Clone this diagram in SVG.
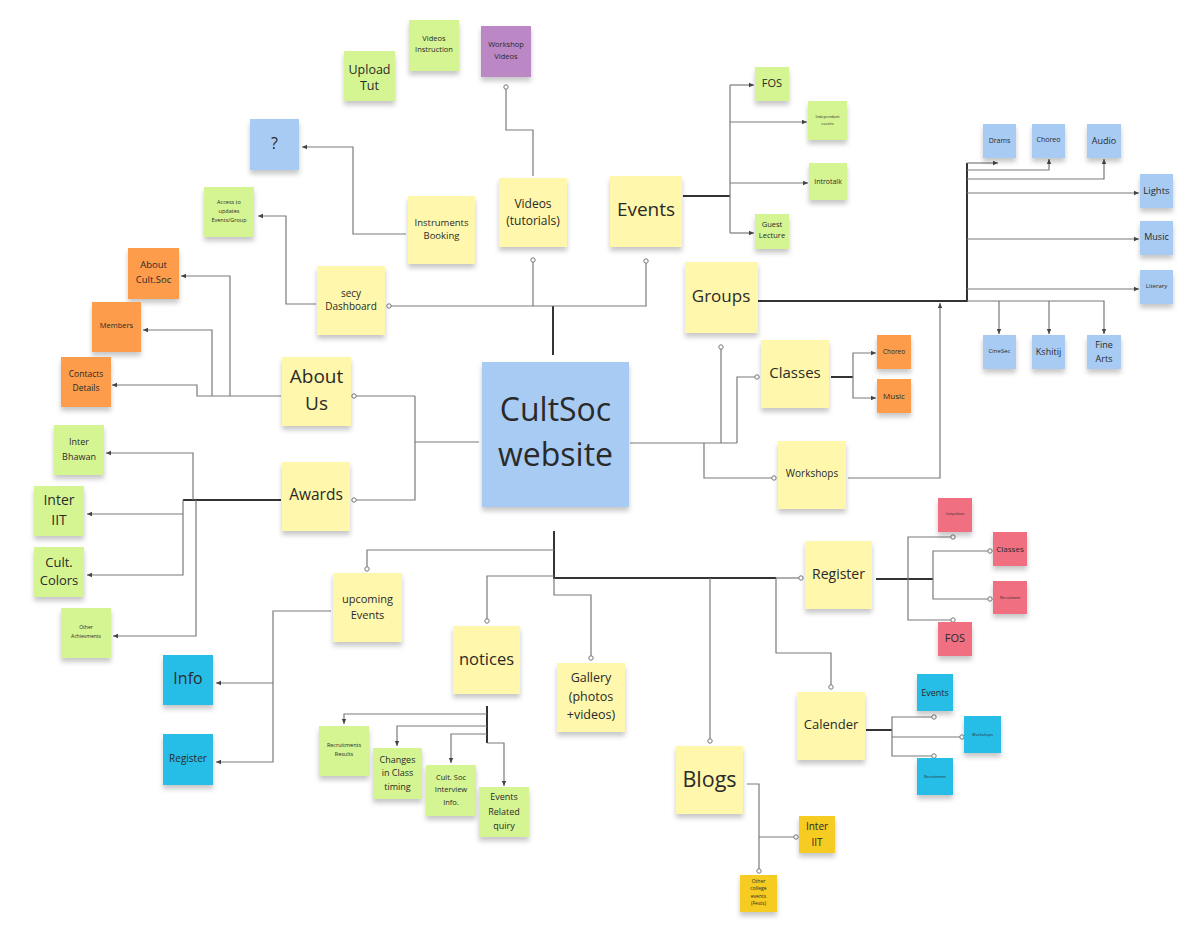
<svg xmlns="http://www.w3.org/2000/svg" width="1204" height="933" viewBox="0 0 1204 933">
<style>
.note{filter:url(#sh)}
.y{fill:#fff7ab}.g{fill:#d5f593}.o{fill:#fd9c4b}.b{fill:#a8cbf4}.p{fill:#bb87c4}.r{fill:#f06f82}.c{fill:#27bee6}.gd{fill:#f6cb24}
text{font-family:"Open Sans","Liberation Sans",sans-serif;fill:#2a2a2a;text-anchor:middle;dominant-baseline:central}
.ln{fill:none;stroke:#7a7a7a;stroke-width:1.2}
.tk{fill:none;stroke:#333;stroke-width:2}
.ar{marker-end:url(#arrow)}
.dt{marker-end:url(#dot)}
</style>
<defs>
<filter id="sh" x="-20%" y="-20%" width="140%" height="150%">
<feDropShadow dx="0" dy="4" stdDeviation="2.5" flood-color="#000" flood-opacity="0.22"/>
</filter>
<marker id="arrow" markerUnits="userSpaceOnUse" markerWidth="6" markerHeight="6" refX="5" refY="3" orient="auto">
<path d="M0,0.8 L5,3 L0,5.2 z" fill="#444"/>
</marker>
<marker id="dot" markerUnits="userSpaceOnUse" markerWidth="8" markerHeight="8" refX="4" refY="4" orient="auto">
<circle cx="4" cy="4" r="2.2" fill="#fff" stroke="#777" stroke-width="1"/>
</marker>
</defs>
<rect width="1204" height="933" fill="#ffffff"/>

<g id="connectors">
<!-- top -->
<path class="tk" d="M553,355 V306"/>
<path class="ln dt" d="M553,306 H389"/>
<path class="ln dt" d="M553,306 H646 V261"/>
<path class="ln dt" d="M533,306 V260"/>
<path class="ln dt" d="M533,176 V130 H506 V87"/>
<path class="ln ar" d="M406,234 H353 V147 H302"/>
<path class="ln ar" d="M316,304 H286 V216 H258"/>
<!-- events -->
<path class="tk" d="M683,196 H730"/>
<path class="ln" d="M730,85 V233"/>
<path class="ln ar" d="M730,85 H754"/>
<path class="ln ar" d="M730,122 H807"/>
<path class="ln ar" d="M730,183 H808"/>
<path class="ln ar" d="M730,233 H754"/>
<!-- groups -->
<path class="tk" d="M758,301 H967 V163"/>
<path class="ln ar" d="M967,163 H998"/>
<path class="ln ar" d="M967,170 H1049 V159"/>
<path class="ln ar" d="M967,179 H1104 V159"/>
<path class="ln ar" d="M967,193 H1139"/>
<path class="ln ar" d="M967,239 H1139"/>
<path class="ln ar" d="M967,289 H1139"/>
<path class="ln ar" d="M967,301 H1104 V334"/>
<path class="ln ar" d="M999,301 V334"/>
<path class="ln ar" d="M1049,301 V334"/>
<!-- hub right -->
<path class="ln" d="M630,443 H737"/>
<path class="ln dt" d="M737,443 V377 H757"/>
<path class="ln dt" d="M721,443 V347"/>
<path class="ln dt" d="M704,443 V478 H774"/>
<path class="ln ar" d="M848,478 H940 V303"/>
<!-- classes -->
<path class="tk" d="M831,377 H853"/>
<path class="ln ar" d="M853,377 V353 H876"/>
<path class="ln ar" d="M853,377 V398 H876"/>
<!-- hub left -->
<path class="ln" d="M479,442 H415"/>
<path class="ln dt" d="M415,396 H354"/>
<path class="ln dt" d="M415,396 V500 H354"/>
<!-- about us -->
<path class="ln ar" d="M281,396 H197 V385 H112"/>
<path class="ln ar" d="M230,396 V276 H181"/>
<path class="ln ar" d="M212,396 V330 H143"/>
<!-- awards -->
<path class="tk" d="M281,500 H183"/>
<path class="ln ar" d="M183,500 V575 H87"/>
<path class="ln ar" d="M183,514 H87"/>
<path class="ln ar" d="M193,500 V453 H106"/>
<path class="ln ar" d="M196,500 V636 H113"/>
<!-- bottom hub -->
<path class="tk" d="M554,531 V578 H776"/>
<path class="ln dt" d="M776,578 H801"/>
<path class="ln dt" d="M554,550 H367 V569"/>
<path class="ln dt" d="M554,576 H487 V621"/>
<path class="ln dt" d="M554,578 V595 H591 V658"/>
<path class="ln dt" d="M710,578 V741"/>
<path class="ln dt" d="M776,578 V653 H831 V687"/>
<!-- upcoming -->
<path class="ln ar" d="M331,611 H273 V762 H216"/>
<path class="ln ar" d="M273,683 H216"/>
<!-- notices -->
<path class="tk" d="M487,706 V743"/>
<path class="ln ar" d="M487,743 H504 V786"/>
<path class="ln ar" d="M487,714 H344 V724"/>
<path class="ln ar" d="M487,726 H397 V746"/>
<path class="ln ar" d="M487,734 H451 V763"/>
<!-- register -->
<path class="tk" d="M876,579 H933"/>
<path class="ln dt" d="M908,579 V537 H953"/>
<path class="ln dt" d="M908,579 V620 H953"/>
<path class="ln dt" d="M933,579 V551 H990"/>
<path class="ln dt" d="M933,579 V599 H990"/>
<!-- calender -->
<path class="tk" d="M866,730 H892"/>
<path class="ln dt" d="M892,730 V717 H934"/>
<path class="ln dt" d="M892,737 H962"/>
<path class="ln dt" d="M892,730 V756 H934"/>
<!-- blogs -->
<path class="ln dt" d="M747,784 H759 V871"/>
<path class="ln dt" d="M759,837 H796"/>
</g>

<g id="upload-tut"><rect class="note g" x="344" y="51" width="51" height="50"/><text font-size="12.5"><tspan x="369.5" y="69">Upload</tspan><tspan x="369.5" y="85">Tut</tspan></text></g>
<g id="videos-instruction"><rect class="note g" x="409" y="20" width="50" height="51"/><text font-size="7.5"><tspan x="434" y="38">Videos</tspan><tspan x="434" y="49">Instruction</tspan></text></g>
<g id="workshop-videos"><rect class="note p" x="481" y="26" width="50" height="51"/><text font-size="7.5"><tspan x="506" y="44">Workshop</tspan><tspan x="506" y="56">Videos</tspan></text></g>
<g id="question"><rect class="note b" x="250" y="119" width="49" height="51"/><text font-size="16" x="274.5" y="143">?</text></g>
<g id="access-updates"><rect class="note g" x="204" y="187" width="50" height="50"/><text font-size="5.5"><tspan x="229" y="202">Access to</tspan><tspan x="229" y="211">updates</tspan><tspan x="229" y="220">Events/Group</tspan></text></g>
<g id="instruments-booking"><rect class="note y" x="408" y="196" width="67" height="68"/><text font-size="9.5"><tspan x="441.5" y="222">Instruments</tspan><tspan x="441.5" y="235">Booking</tspan></text></g>
<g id="videos-tutorials"><rect class="note y" x="499" y="178" width="68" height="69"/><text font-size="12"><tspan x="533" y="203">Videos</tspan><tspan x="533" y="220">(tutorials)</tspan></text></g>
<g id="secy-dashboard"><rect class="note y" x="317" y="266" width="68" height="69"/><text font-size="10"><tspan x="351" y="293">secy</tspan><tspan x="351" y="306">Dashboard</tspan></text></g>

<g id="events"><rect class="note y" x="610" y="176" width="72" height="71"/><text font-size="19" x="646" y="209">Events</text></g>
<g id="fos-events"><rect class="note g" x="755" y="67" width="34" height="34"/><text font-size="11" x="772" y="82">FOS</text></g>
<g id="independant-events"><rect class="note g" x="808" y="101" width="39" height="39"/><text font-size="4"><tspan x="827.5" y="116">Independant</tspan><tspan x="827.5" y="123">events</tspan></text></g>
<g id="introtalk"><rect class="note g" x="809" y="163" width="38" height="37"/><text font-size="7" x="828" y="181">Introtalk</text></g>
<g id="guest-lecture"><rect class="note g" x="755" y="214" width="34" height="35"/><text font-size="7.5"><tspan x="772" y="224">Guest</tspan><tspan x="772" y="235">Lecture</tspan></text></g>

<g id="groups"><rect class="note y" x="685" y="262" width="73" height="71"/><text font-size="17" x="721" y="295">Groups</text></g>
<g id="drams"><rect class="note b" x="983" y="124" width="33" height="34"/><text font-size="7" x="999.5" y="140">Drams</text></g>
<g id="choreo-group"><rect class="note b" x="1032" y="124" width="33" height="34"/><text font-size="7" x="1048.5" y="139">Choreo</text></g>
<g id="audio"><rect class="note b" x="1087" y="124" width="34" height="34"/><text font-size="9" x="1104" y="140">Audio</text></g>
<g id="lights"><rect class="note b" x="1140" y="174" width="33" height="34"/><text font-size="9.5" x="1156.5" y="190">Lights</text></g>
<g id="music-group"><rect class="note b" x="1140" y="221" width="33" height="34"/><text font-size="9" x="1156.5" y="236">Music</text></g>
<g id="literary"><rect class="note b" x="1140" y="270" width="33" height="34"/><text font-size="6" x="1156.5" y="286">Literary</text></g>
<g id="cinesec"><rect class="note b" x="983" y="335" width="33" height="34"/><text font-size="6" x="999.5" y="351">CineSec</text></g>
<g id="kshitij"><rect class="note b" x="1032" y="335" width="33" height="34"/><text font-size="9" x="1048.5" y="351">Kshitij</text></g>
<g id="fine-arts"><rect class="note b" x="1087" y="335" width="34" height="34"/><text font-size="9"><tspan x="1104" y="344">Fine</tspan><tspan x="1104" y="358">Arts</tspan></text></g>

<g id="cultsoc-website"><rect class="note b" x="482" y="362" width="147" height="145"/><text font-size="32"><tspan x="555.5" y="408">CultSoc</tspan><tspan x="555.5" y="453">website</tspan></text></g>

<g id="classes"><rect class="note y" x="761" y="340" width="68" height="68"/><text font-size="15" x="795" y="372">Classes</text></g>
<g id="choreo-class"><rect class="note o" x="877" y="335" width="34" height="34"/><text font-size="6.5" x="894" y="351">Choreo</text></g>
<g id="music-class"><rect class="note o" x="877" y="379" width="34" height="34"/><text font-size="8" x="894" y="395">Music</text></g>
<g id="workshops"><rect class="note y" x="778" y="441" width="68" height="68"/><text font-size="10" x="812" y="473">Workshops</text></g>

<g id="about-us"><rect class="note y" x="282" y="357" width="69" height="69"/><text font-size="19"><tspan x="316.5" y="376">About</tspan><tspan x="316.5" y="403">Us</tspan></text></g>
<g id="awards"><rect class="note y" x="282" y="462" width="68" height="69"/><text font-size="15.5" x="316" y="494">Awards</text></g>
<g id="about-cultsoc"><rect class="note o" x="128" y="248" width="51" height="51"/><text font-size="9.5"><tspan x="153.5" y="264">About</tspan><tspan x="153.5" y="279">Cult.Soc</tspan></text></g>
<g id="members"><rect class="note o" x="92" y="302" width="49" height="50"/><text font-size="7.5" x="116.5" y="325">Members</text></g>
<g id="contacts-details"><rect class="note o" x="61" y="357" width="50" height="50"/><text font-size="8.5"><tspan x="86" y="373">Contacts</tspan><tspan x="86" y="387">Details</tspan></text></g>
<g id="inter-bhawan"><rect class="note g" x="54" y="425" width="50" height="50"/><text font-size="9"><tspan x="79" y="441">Inter</tspan><tspan x="79" y="456">Bhawan</tspan></text></g>
<g id="inter-iit-award"><rect class="note g" x="34" y="486" width="50" height="50"/><text font-size="14"><tspan x="59" y="499">Inter</tspan><tspan x="59" y="519">IIT</tspan></text></g>
<g id="cult-colors"><rect class="note g" x="34" y="547" width="50" height="50"/><text font-size="13"><tspan x="59" y="562">Cult.</tspan><tspan x="59" y="580">Colors</tspan></text></g>
<g id="other-achievments"><rect class="note g" x="61" y="608" width="50" height="50"/><text font-size="5"><tspan x="86" y="627">Other</tspan><tspan x="86" y="636">Achievments</tspan></text></g>

<g id="upcoming-events"><rect class="note y" x="333" y="573" width="69" height="69"/><text font-size="11"><tspan x="367.5" y="598">upcoming</tspan><tspan x="367.5" y="614">Events</tspan></text></g>
<g id="info"><rect class="note c" x="163" y="655" width="50" height="50"/><text font-size="16" x="188" y="678">Info</text></g>
<g id="register-upcoming"><rect class="note c" x="163" y="734" width="50" height="51"/><text font-size="10" x="188" y="758">Register</text></g>

<g id="notices"><rect class="note y" x="453" y="626" width="67" height="68"/><text font-size="16.5" x="486.5" y="658">notices</text></g>
<g id="gallery"><rect class="note y" x="557" y="663" width="68" height="69"/><text font-size="12.5"><tspan x="591" y="677">Gallery</tspan><tspan x="591" y="696">(photos</tspan><tspan x="591" y="714">+videos)</tspan></text></g>
<g id="recruitments-results"><rect class="note g" x="319" y="726" width="50" height="50"/><text font-size="5.5"><tspan x="344" y="745">Recruitments</tspan><tspan x="344" y="754">Results</tspan></text></g>
<g id="changes-class-timing"><rect class="note g" x="373" y="748" width="49" height="51"/><text font-size="9"><tspan x="397.5" y="759">Changes</tspan><tspan x="397.5" y="772">in Class</tspan><tspan x="397.5" y="786">timing</tspan></text></g>
<g id="interview-info"><rect class="note g" x="426" y="765" width="50" height="51"/><text font-size="7.5"><tspan x="451" y="777">Cult. Soc</tspan><tspan x="451" y="789">Interview</tspan><tspan x="451" y="802">Info.</tspan></text></g>
<g id="events-related-quiry"><rect class="note g" x="479" y="787" width="50" height="50"/><text font-size="9"><tspan x="504" y="796">Events</tspan><tspan x="504" y="811">Related</tspan><tspan x="504" y="825">quiry</tspan></text></g>

<g id="register"><rect class="note y" x="805" y="541" width="67" height="68"/><text font-size="14" x="838.5" y="573">Register</text></g>
<g id="competitions"><rect class="note r" x="938" y="498" width="34" height="34"/><text font-size="3" x="955" y="514">Competitions</text></g>
<g id="classes-register"><rect class="note r" x="993" y="532" width="34" height="34"/><text font-size="8" x="1010" y="548">Classes</text></g>
<g id="recruitment-register"><rect class="note r" x="993" y="581" width="34" height="33"/><text font-size="3.5" x="1010" y="597">Recruitment</text></g>
<g id="fos-register"><rect class="note r" x="938" y="622" width="34" height="34"/><text font-size="11" x="955" y="637">FOS</text></g>

<g id="calender"><rect class="note y" x="797" y="692" width="68" height="68"/><text font-size="13" x="831" y="724">Calender</text></g>
<g id="events-calender"><rect class="note c" x="917" y="674" width="36" height="37"/><text font-size="9" x="935" y="692">Events</text></g>
<g id="workshops-calender"><rect class="note c" x="964" y="716" width="37" height="37"/><text font-size="4" x="982.5" y="734">Workshops</text></g>
<g id="recruitments-calender"><rect class="note c" x="917" y="758" width="36" height="37"/><text font-size="3.5" x="935" y="776">Recruitments</text></g>

<g id="blogs"><rect class="note y" x="676" y="746" width="67" height="68"/><text font-size="21.5" x="709.5" y="778">Blogs</text></g>
<g id="inter-iit-blog"><rect class="note gd" x="799" y="816" width="36" height="37"/><text font-size="10"><tspan x="817" y="826">Inter</tspan><tspan x="817" y="842">IIT</tspan></text></g>
<g id="other-college-events"><rect class="note gd" x="740" y="875" width="37" height="37"/><text font-size="5"><tspan x="758.5" y="881">Other</tspan><tspan x="758.5" y="888">college</tspan><tspan x="758.5" y="896">events</tspan><tspan x="758.5" y="903">(Fests)</tspan></text></g>
</svg>
